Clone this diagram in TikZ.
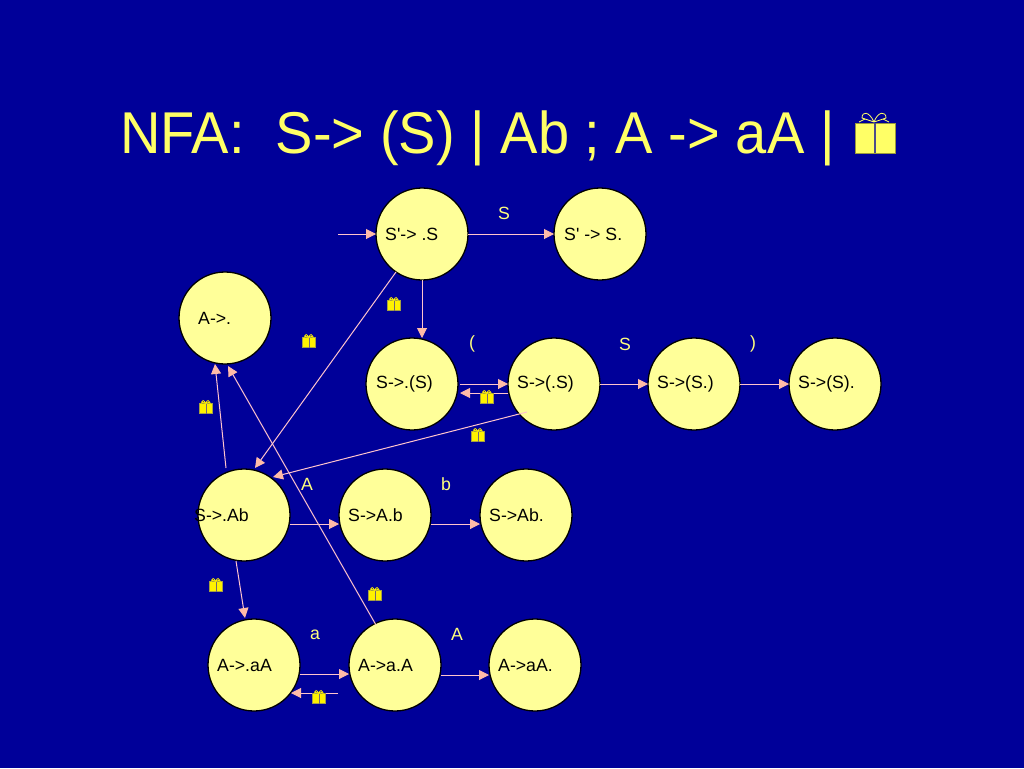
\documentclass[tikz,border=0pt]{standalone}
\usepackage{fontspec}
\newfontfamily\plainf{Liberation Sans}
\usetikzlibrary{arrows.meta}
\definecolor{bgblue}{HTML}{000099}
\definecolor{titleyellow}{HTML}{FFFF66}
\definecolor{circleyellow}{HTML}{FFFF99}
\definecolor{linepink}{HTML}{FFC4CC}
\definecolor{headpink}{HTML}{FFBBA8}
\tikzset{
  x=1pt,y=-1pt,
  st/.style={circle,draw=black,line width=1.3pt,fill=circleyellow,minimum size=92pt,inner sep=0pt,outer sep=0pt},
  stlabel/.style={anchor=west,inner sep=0pt,font=\plainf\fontsize{17.7}{20}\selectfont,text=black},
  edgelabel/.style={inner sep=0pt,font=\plainf\fontsize{17.7}{20}\selectfont,text=titleyellow!85!white},
  ar/.style={draw=linepink,line width=1pt,-{Triangle[length=10pt,width=10pt,fill=headpink,color=headpink]}},
  pics/gift/.style={code={
    \fill[#1] (-20,-10) rectangle (-1,20);
    \fill[#1] (1,-10) rectangle (20,20);
    \draw[#1!60!black,line width=0.5pt] (-20,-10) rectangle (20,20);
    \fill[#1!30!bgblue] (-1,-10) rectangle (1,20);
    \draw[#1,line width=0.8pt] (-1,-11) .. controls (-6,-22) and (-13,-22) .. (-13,-15) -- (-1,-11)
      .. controls (3,-22) and (11,-22) .. (11,-15) -- (-1,-11);
    \draw[#1,line width=0.8pt] (-16,-11) -- (-10,-14) (14,-11) -- (8,-14);
  }}
}
\newcommand{\stnode}[5]{%
  \node[st] (#1) at (#2,#3) {};
  \node[stlabel] (#1t) at ([xshift=#4pt]#1.center) {#5};
}
\begin{document}
\begin{tikzpicture}
\useasboundingbox[fill=bgblue] (0,0) rectangle (1024,768);
\node[anchor=base west,inner sep=0pt,xscale=0.95,font=\plainf\fontsize{59}{66}\selectfont,text=titleyellow] (title) at (120,153) {NFA:\ \ S-> (S) | Ab ; A -> aA |};
\pic[scale=1] at (875,133) {gift=titleyellow};

\stnode{a}{422}{234}{-37}{S'-> .S}
\stnode{b}{600}{234}{-36}{S' -> S.}
\stnode{c}{225}{318}{-27}{A->.}
\stnode{d}{412}{384}{-36}{S->.(S)}
\stnode{e}{554}{384}{-37}{S->(.S)}
\stnode{f}{694}{384}{-37}{S->(S.)}
\stnode{g}{835}{384}{-37}{S->(S).}
\stnode{h}{244}{515}{-50}{S->.Ab}
\stnode{i}{385}{515}{-37}{S->A.b}
\stnode{j}{526}{515}{-37}{S->Ab.}
\stnode{k}{254}{665}{-37}{A->.aA}
\stnode{l}{395}{665}{-37}{A->a.A}
\stnode{m}{535}{665}{-37}{A->aA.}

\coordinate (entry) at (338,234);
\draw[ar] (entry) -- (a.west);
\draw[ar] (a.east) -- (b.west);
\draw[ar] (a.south) -- (a.south |- d.north);
\draw[ar] ([shift={(-26,38)}]a.center) -- ([shift={(11,-47)}]h.center);
\draw[ar] ([shift={(2,0)}]d.east) -- (e.west);
\draw[ar] ([shift={(0,9)}]e.west) -- ([shift={(2,9)}]d.east);
\draw[ar] (e.east) -- (f.west);
\draw[ar] (f.east) -- (g.west);
\draw[ar] ([shift={(-27,28)}]e.center) -- ([shift={(29,-38)}]h.center);
\draw[ar] ([shift={(-18,-47)}]h.center) -- ([shift={(-10,46)}]c.center);
\draw[ar] ([shift={(-19,-40)}]l.center) -- ([shift={(3,48)}]c.center);
\draw[ar] ([shift={(-8,46)}]h.center) -- ([shift={(-9,-47)}]k.center);
\draw[ar] ([shift={(0,9)}]h.east) -- ([shift={(0,9)}]i.west);
\draw[ar] ([shift={(0,9)}]i.east) -- ([shift={(0,9)}]j.west);
\draw[ar] ([shift={(0,9)}]k.east) -- ([shift={(0,9)}]l.west);
\draw[ar] ([shift={(-57,28)}]l.center) -- ([shift={(37,28)}]k.center);
\draw[ar] ([shift={(0,10)}]l.east) -- ([shift={(0,10)}]m.west);

\node[edgelabel] (ls) at (504,213) {S};
\node[edgelabel] (lp) at (472,344) {(};
\node[edgelabel] (ls2) at (625,344) {S};
\node[edgelabel] (lq) at (753,344) {)};
\node[edgelabel] (la) at (307,484) {A};
\node[edgelabel] (lb) at (446,484) {b};
\node[edgelabel] (lc) at (315,635) {a};
\node[edgelabel] (ld) at (457,634) {A};

\foreach \x/\y in {394/304,309/341,206/407,487/397,478/435,216/585,375/594,319/697}
  \pic[scale=0.33] at (\x,\y) {gift=yellow};
\end{tikzpicture}
\end{document}
